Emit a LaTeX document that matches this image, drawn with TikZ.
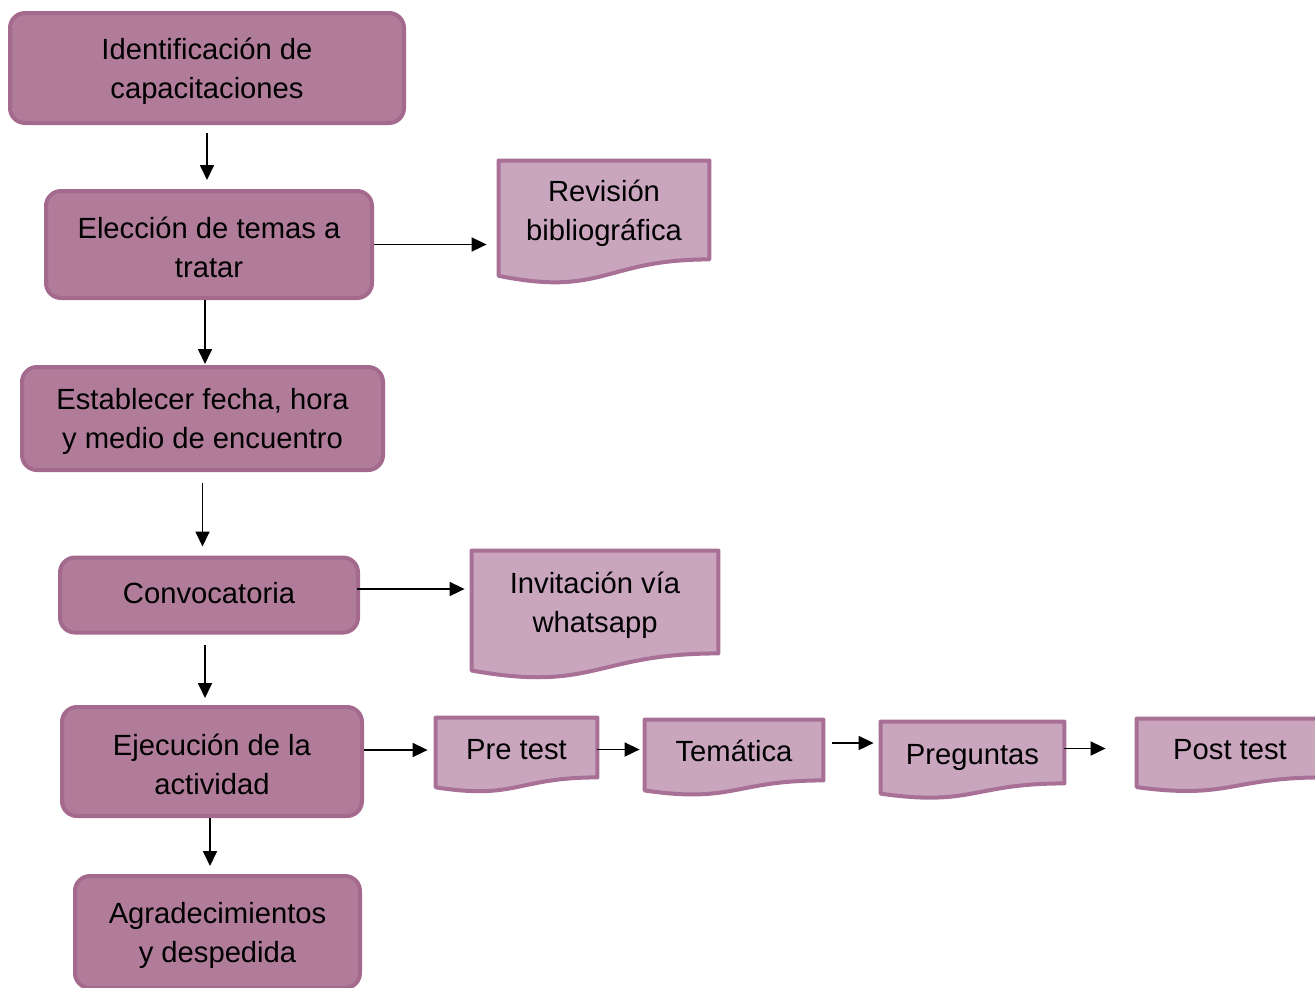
\documentclass[tikz,border=0pt]{standalone}
\usepackage{fontspec}
\setmainfont{Liberation Sans}
\usetikzlibrary{calc,backgrounds,arrows.meta}
\definecolor{boxfill}{RGB}{176,124,154}
\definecolor{boxline}{RGB}{164,106,142}
\definecolor{docfill}{RGB}{201,166,190}
\definecolor{docline}{RGB}{168,112,150}
\newcommand{\topstrut}{\rule{0pt}{14pt}}
\tikzset{
    textstrut/.style 2 args={execute at begin node={\rule{0pt}{#1}},
        execute at end node={\rule[-#2]{0pt}{#2}}},
    sline/.style={textstrut={13.5pt}{5.5pt}},
    dsline/.style={textstrut={15pt}{3.5pt}},
    procbox/.style={draw=boxline, fill=boxfill, line width=2pt, rounded corners=7.5pt,
        align=center, inner sep=0pt},
    doctext/.style={align=center, inner sep=0pt},
    docshape/.style={draw=docline, fill=docfill, line width=2pt, line join=round},
    flow/.style={-{Triangle[length=7.5pt,width=7pt]}, line width=0.85pt}
}
% document shape: [text style] name, centre, width, height of the straight part, text
\newcommand{\docbox}[6][dsline]{%
    \node[doctext, #1, minimum width=#4, minimum height=#5] (#2) at (#3) {#6};
    \begin{scope}[on background layer]
    \filldraw[docshape] (#2.south east) -- (#2.north east) -- (#2.north west)
        -- ($(#2.south west)+(0,-0.1675*#5)$)
        .. controls ($(#2.south)+(0,-0.384*#5)$) and (#2.south) .. (#2.south east) -- cycle;
    \end{scope}
}

\begin{document}
\begin{tikzpicture}[x=0.5pt, y=-0.5pt, font=\fontsize{14.6}{19.5}\selectfont]

\useasboundingbox (0,0) rectangle (1315,987);

% main column
\node[procbox, minimum width=197pt, minimum height=55pt] (ident) at (207,68)
    {\topstrut Identificación de\\capacitaciones};
\node[procbox, minimum width=163pt, minimum height=53.5pt] (eleccion) at (209,244.5)
    {\topstrut Elección de temas a\\tratar};
\node[procbox, minimum width=180.5pt, minimum height=51.5pt] (establecer) at (202.5,418.5)
    {\topstrut Establecer fecha, hora\\y medio de encuentro};
\node[procbox, sline, minimum width=149pt, minimum height=37.5pt] (convoc) at (209,595)
    {Convocatoria};
\node[procbox, minimum width=150pt, minimum height=54.5pt] (ejecucion) at (212,761.5)
    {\topstrut Ejecución de la\\actividad};
\node[procbox, minimum width=142.5pt, minimum height=56pt] (agradec) at (217.5,932)
    {\topstrut Agradecimientos\\y despedida};

% documents
\docbox[]{revision}{604,210}{105pt}{49pt}{\topstrut Revisión\\bibliográfica}
\docbox[]{invitacion}{595,602}{123pt}{51pt}{\topstrut Invitación vía\\whatsapp}
\docbox{pretest}{516.5,747.5}{80.5pt}{29.5pt}{Pre test}
\docbox{tematica}{734,750}{89pt}{30pt}{Temática}
\docbox{preguntas}{972.5,752.5}{91.5pt}{30.5pt}{Preguntas}
\docbox{posttest}{1230,748}{93pt}{29pt}{Post test}

% vertical arrows
\draw[flow, shorten <=4pt, shorten >=4.5pt] (ident.south) -- (ident.south |- eleccion.north);
\draw[flow, shorten >=0.5pt] ([xshift=-2pt]eleccion.south) -- ([xshift=-2pt]eleccion.south |- establecer.north);
\draw[flow, shorten <=5.5pt, shorten >=4.5pt] (establecer.south) -- (establecer.south |- convoc.north);
\draw[flow, shorten <=5pt, shorten >=3.5pt] ([xshift=-2pt]convoc.south) -- ([xshift=-2pt]convoc.south |- ejecucion.north);
\draw[flow, shorten >=4pt] ([xshift=-1pt]ejecucion.south) -- ([xshift=-1pt]ejecucion.south |- agradec.north);

% horizontal arrows
\draw[flow, shorten >=6pt] (eleccion.east) -- (eleccion.east -| revision.west);
\draw[flow, shorten <=-1.5pt, shorten >=3.5pt] ([yshift=3pt]convoc.east) -- ([yshift=3pt]convoc.east -| invitacion.west);
\draw[flow, shorten >=4pt] ([yshift=5.75pt]ejecucion.east) -- ([yshift=5.75pt]ejecucion.east -| pretest.west);
\draw[flow, shorten >=2.5pt] ([yshift=-1pt]pretest.east) -- ([yshift=-1pt]pretest.east -| tematica.west);
\draw[flow, shorten <=4.5pt, shorten >=3.5pt] ([yshift=3.5pt]tematica.east) -- ([yshift=3.5pt]tematica.east -| preguntas.west);
\draw[flow, shorten >=15.5pt] ([yshift=2pt]preguntas.east) -- ([yshift=2pt]preguntas.east -| posttest.west);

\end{tikzpicture}
\end{document}
